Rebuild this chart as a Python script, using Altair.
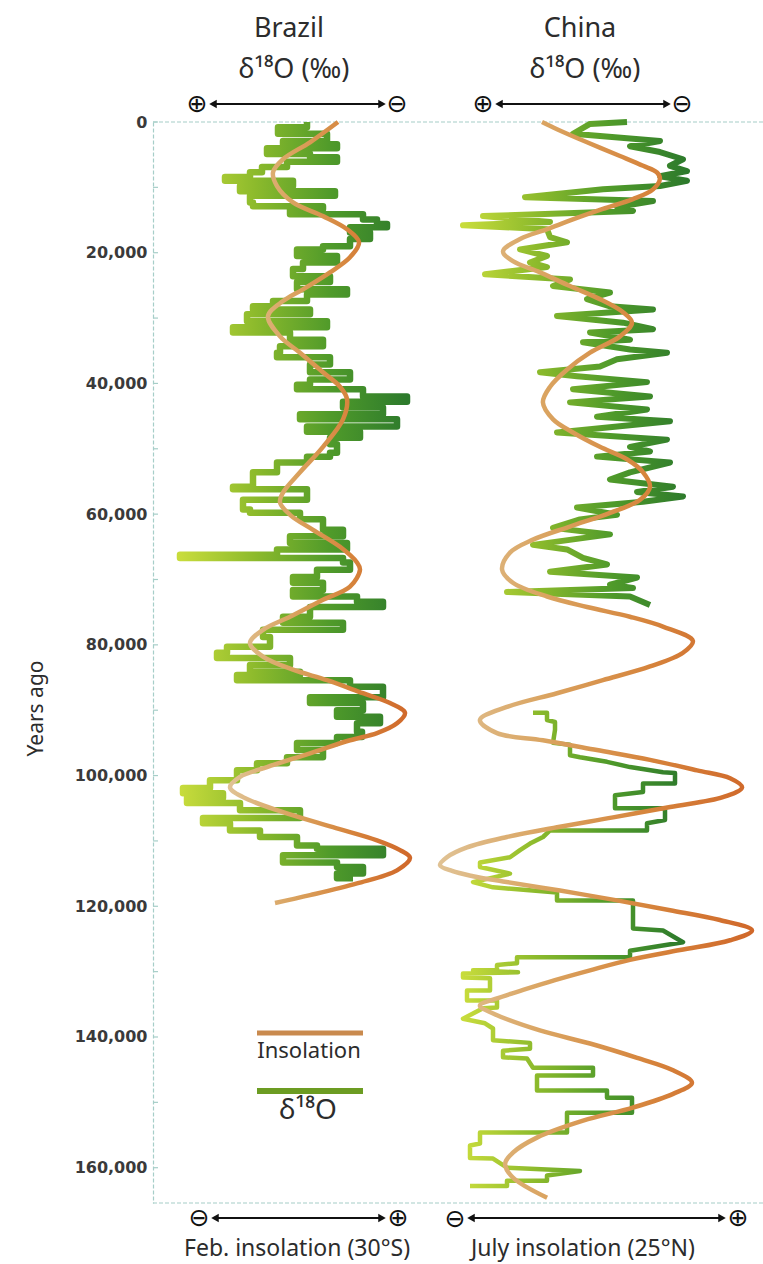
import altair as alt
import pandas as pd

# ---------------------------------------------------------------------------
# Data: (thousand years ago, value)
# ---------------------------------------------------------------------------
# Brazil speleothem δ18O (‰)
brazil_d18o = [
    (0.0, -4.20), (0.8, -3.62), (1.8, -4.60), (2.9, -3.72), (3.4, -4.80), (4.0, -3.40),
    (4.9, -4.26), (5.4, -4.80), (6.1, -3.80), (6.9, -3.30), (7.7, -3.06), (8.4, -2.56),
    (9.0, -3.92), (9.8, -2.86), (10.6, -4.76), (11.3, -3.06), (12.3, -3.12), (12.9, -4.52),
    (13.3, -3.86), (14.1, -5.32), (14.9, -5.60), (15.6, -5.80), (16.1, -5.06), (16.9, -5.46),
    (17.9, -5.06), (19.0, -4.52), (19.5, -4.00), (20.5, -4.80), (21.5, -4.12), (22.5, -3.92),
    (23.6, -4.66), (24.5, -4.00), (25.6, -5.00), (26.4, -4.20), (27.4, -3.52), (28.2, -3.12),
    (28.7, -4.26), (29.4, -3.00), (30.5, -4.60), (31.4, -2.72), (32.2, -3.86), (33.3, -4.52),
    (34.3, -3.66), (35.3, -3.60), (36.0, -4.66), (37.1, -4.26), (38.3, -5.06), (39.4, -4.26),
    (40.2, -4.00), (40.9, -5.32), (42.0, -6.20), (42.8, -4.92), (43.7, -5.72), (44.7, -4.06),
    (45.5, -6.00), (46.6, -4.20), (47.4, -5.26), (48.3, -4.66), (49.3, -4.80), (50.6, -4.66),
    (51.2, -4.20), (52.1, -3.60), (53.6, -3.12), (55.8, -2.72), (56.2, -4.20), (57.8, -2.92),
    (59.3, -3.06), (59.8, -4.06), (60.8, -4.52), (62.4, -4.92), (63.4, -3.86), (64.4, -5.00),
    (65.4, -3.60), (66.2, -1.66), (66.7, -4.92), (67.4, -5.06), (68.5, -4.40), (69.6, -3.92),
    (70.5, -4.52), (71.6, -3.92), (72.6, -5.20), (73.4, -5.72), (74.2, -4.26), (75.7, -3.72),
    (76.6, -4.92), (77.7, -3.32), (78.8, -3.46), (80.3, -2.60), (81.2, -2.40), (82.0, -3.86),
    (83.1, -3.06), (84.1, -4.06), (84.6, -2.80), (85.4, -5.06), (86.4, -5.72), (88.0, -4.26),
    (88.9, -5.32), (90.0, -4.80), (91.0, -5.66), (92.0, -5.20), (93.3, -5.30), (94.1, -4.80),
    (95.0, -4.00), (96.1, -4.52), (97.2, -3.80), (98.1, -3.20), (99.2, -2.80), (100.7, -2.26),
    (101.9, -1.72), (102.7, -2.52), (103.4, -1.80), (104.2, -2.86), (105.3, -4.06), (106.5, -2.12),
    (107.3, -2.66), (108.4, -3.26), (109.4, -4.00), (110.7, -4.40), (111.2, -5.72), (112.2, -3.72),
    (113.3, -4.80), (114.0, -5.32), (115.0, -4.80), (115.7, -5.12),
]

# China speleothem δ18O (‰), younger section
china_d18o_young = [
    (0.0, -7.86), (0.3, -7.12), (1.8, -6.78), (2.9, -8.52), (3.7, -7.92), (4.6, -8.52),
    (5.7, -8.98), (6.7, -8.72), (7.5, -9.06), (8.3, -8.52), (9.0, -9.06), (9.8, -8.52),
    (10.3, -7.38), (11.5, -5.82), (12.1, -8.38), (13.0, -7.66), (13.6, -7.98), (14.4, -4.98),
    (15.3, -6.32), (15.8, -4.58), (16.4, -6.26), (17.6, -6.32), (18.4, -6.66), (19.5, -5.72),
    (20.5, -6.26), (21.5, -5.92), (22.2, -6.26), (23.3, -5.02), (24.1, -6.72), (25.1, -6.38),
    (26.1, -7.52), (27.1, -7.06), (28.2, -7.52), (28.7, -8.38), (29.7, -6.46), (30.7, -7.78),
    (31.7, -8.38), (32.2, -7.12), (33.3, -7.92), (33.7, -6.98), (34.8, -7.92), (35.3, -8.66),
    (36.3, -7.66), (37.4, -7.32), (38.3, -6.12), (38.9, -6.86), (39.8, -8.26), (40.9, -6.78),
    (42.0, -8.32), (42.9, -6.72), (44.0, -8.26), (45.1, -7.26), (45.8, -8.72), (47.5, -6.46),
    (48.6, -8.66), (49.7, -7.92), (50.4, -8.32), (51.2, -7.26), (52.1, -8.72), (53.6, -7.92),
    (54.7, -7.52), (55.8, -8.78), (56.6, -8.06), (57.3, -8.98), (58.1, -8.18), (59.0, -6.86),
    (60.1, -7.66), (60.8, -6.92), (62.1, -6.38), (63.1, -7.52), (64.7, -5.98), (65.4, -6.66),
    (66.7, -6.98), (67.7, -7.46), (68.8, -6.32), (69.7, -8.06), (70.8, -7.52), (71.3, -7.98),
    (71.9, -5.46), (72.6, -7.92), (73.9, -8.32),
]

# China speleothem δ18O (‰), older section (after the gap)
china_d18o_old = [
    (90.4, -5.98), (90.4, -6.26), (91.5, -6.26), (91.8, -6.42), (93.0, -6.42), (95.0, -6.38),
    (95.3, -6.72), (96.9, -6.72), (97.2, -6.92), (97.9, -7.46), (98.7, -7.92), (99.5, -8.58),
    (99.6, -8.82), (101.2, -8.82), (101.2, -8.18), (102.5, -8.18), (103.0, -7.62), (105.0, -7.62),
    (105.0, -8.62), (106.8, -8.62), (107.3, -8.26), (108.4, -8.26), (108.4, -6.32), (109.4, -6.18),
    (110.4, -5.92), (111.4, -5.72), (112.5, -5.52), (113.3, -4.92), (114.0, -4.92), (115.0, -5.52),
    (116.3, -4.78), (117.1, -5.18), (117.9, -6.46), (119.1, -6.46), (119.1, -7.98), (123.4, -7.98),
    (123.7, -8.58), (125.5, -8.98), (126.8, -7.92), (127.8, -7.92), (127.8, -5.66), (128.7, -5.66),
    (129.0, -5.26), (129.8, -5.26), (129.8, -4.78), (130.1, -5.68), (130.3, -4.58), (130.9, -4.58),
    (131.0, -5.12), (132.9, -5.12), (132.9, -4.66), (134.4, -4.66), (134.4, -5.26), (135.5, -5.26),
    (135.6, -4.98), (137.2, -4.58), (137.9, -5.02), (138.7, -5.18), (140.5, -5.18), (140.9, -5.92),
    (141.8, -5.92), (142.1, -5.38), (143.1, -5.38), (143.3, -5.86), (144.7, -5.98), (144.7, -7.18),
    (145.9, -7.18), (145.9, -6.06), (148.2, -6.06), (148.2, -7.46), (149.3, -7.46), (149.3, -7.96),
    (151.6, -7.96), (151.6, -6.66), (154.6, -6.66), (154.6, -4.92), (156.3, -4.92), (156.6, -4.72),
    (158.5, -4.72), (158.6, -5.18), (160.0, -5.46), (160.5, -6.92), (161.2, -6.26), (162.0, -6.26),
    (162.0, -5.46), (162.8, -5.46), (162.8, -4.72),
]

# February insolation at 30°S (W/m²)
brazil_insolation = [
    (0.0, 470.5), (3.1, 456.5), (5.7, 443.0), (7.7, 438.0), (9.8, 440.0), (12.3, 448.0),
    (14.4, 463.0), (16.4, 475.0), (18.4, 481.0), (20.7, 476.5), (23.0, 466.5), (25.6, 453.0),
    (27.4, 443.0), (29.7, 435.5), (32.8, 441.5), (35.3, 451.5), (38.3, 463.0), (40.5, 471.5),
    (42.4, 475.0), (45.5, 473.0), (49.7, 463.0), (53.6, 451.5), (56.7, 443.0), (58.2, 441.5),
    (60.1, 446.5), (62.4, 458.0), (65.0, 471.5), (67.4, 480.0), (68.5, 481.5), (71.1, 476.5),
    (73.1, 463.0), (75.7, 446.5), (77.7, 433.0), (79.7, 426.5), (81.8, 433.0), (83.8, 448.0),
    (85.4, 465.0), (87.4, 483.0), (88.9, 496.5), (90.4, 504.0), (92.0, 500.0), (93.5, 490.0),
    (94.6, 476.5), (96.6, 456.5), (98.7, 435.0), (100.2, 421.5), (101.8, 416.5), (103.3, 423.0),
    (105.6, 443.0), (107.9, 468.0), (109.9, 490.0), (111.4, 501.5), (112.6, 506.5), (114.5, 500.0),
    (116.5, 480.0), (118.3, 456.5), (119.5, 439.0),
]

# July insolation at 25°N (W/m²)
china_insolation = [
    (0.0, 459.0), (1.1, 464.0), (3.1, 474.0), (5.2, 485.0), (6.7, 492.7), (7.7, 497.3),
    (8.7, 498.3), (10.3, 496.0), (11.8, 489.3), (13.3, 479.3), (14.9, 469.3), (16.4, 460.7),
    (17.9, 451.7), (19.8, 446.0), (21.3, 449.3), (23.0, 458.3), (25.1, 468.3), (27.1, 478.3),
    (29.1, 486.0), (30.7, 489.0), (32.8, 485.0), (35.3, 475.0), (37.9, 467.3), (40.5, 461.7),
    (42.9, 459.3), (45.5, 462.7), (47.5, 469.3), (49.7, 478.3), (51.6, 487.3), (53.6, 492.7),
    (55.8, 495.0), (57.8, 491.7), (59.8, 481.7), (61.9, 468.3), (63.9, 456.0), (65.9, 448.3),
    (68.5, 445.7), (70.5, 449.3), (72.6, 460.7), (74.2, 474.0), (75.7, 488.3), (77.2, 499.3),
    (79.4, 509.3), (81.2, 506.0), (83.3, 495.0), (85.4, 479.3), (87.4, 464.0), (89.5, 447.3),
    (91.5, 438.3), (93.5, 444.0), (94.6, 459.3), (96.1, 477.3), (97.6, 495.0), (99.2, 510.7),
    (100.4, 521.7), (101.8, 525.7), (103.3, 519.3), (104.8, 501.7), (106.4, 482.7), (107.9, 464.0),
    (109.4, 447.3), (111.0, 434.0), (112.5, 427.3), (113.7, 425.0), (114.6, 429.0), (115.4, 436.0),
    (116.2, 446.0), (117.6, 465.0), (119.1, 484.0), (120.6, 501.7), (122.1, 518.3), (123.7, 529.0),
    (125.2, 521.7), (126.7, 505.0), (128.2, 488.3), (129.8, 475.0), (131.3, 463.3), (132.8, 452.7),
    (134.1, 444.0), (135.2, 438.3), (136.4, 442.7), (139.0, 458.3), (141.0, 475.0), (143.2, 490.7),
    (145.1, 502.7), (147.0, 509.0), (148.7, 502.7), (150.8, 489.3), (152.8, 472.7), (155.4, 457.3),
    (157.7, 449.3), (159.4, 446.7), (161.5, 449.3), (164.6, 460.7),
]

axis_label_ka = [0, 20, 40, 60, 80, 100, 120, 140, 160]
axis_tick_ka = [0, 10, 20, 30, 40, 50, 60, 70, 80, 90, 100, 110, 120, 130, 140, 150, 160]

# ---------------------------------------------------------------------------
# Layout and style
# ---------------------------------------------------------------------------
W, H = 610, 1081          # plot area
LEFT, TOP = 153, 122      # plot origin on the page
Y_MAX = 165400

FONT = "Noto Sans"
SYMBOL_FONT = "DejaVu Sans"
INK = "#2c2c2c"
FRAME = "#a6cec8"


def px(x):
    return x - LEFT


def py(y):
    return y - TOP


def to_frame(pairs):
    df = pd.DataFrame(pairs, columns=["ka", "value"])
    df["years"] = (df["ka"] * 1000).round().astype(int)
    df["idx"] = range(len(df))
    return df


def grad(colors):
    n = len(colors) - 1
    return alt.Gradient(
        gradient="linear",
        stops=[alt.GradientStop(color=c, offset=i / n) for i, c in enumerate(colors)],
        x1=0, x2=1, y1=0, y2=0,
    )


GREEN = grad(["#c8dc3c", "#8cba2c", "#4f9a2a", "#2d7a2c"])
ORANGE = grad(["#e0c294", "#daa461", "#d6843c", "#d0682a"])

y_enc = alt.Y(
    "years:Q",
    scale=alt.Scale(domain=[0, Y_MAX], reverse=True, nice=False, zero=False),
    axis=alt.Axis(
        values=[k * 1000 for k in axis_label_ka], format=",d", title="Years ago",
        ticks=False, tickSize=0, labelPadding=6, grid=False,
        labelFont=SYMBOL_FONT, labelFontSize=16, labelFontWeight="bold", labelColor="#3a3a3a",
        domainColor=FRAME, domainWidth=1.2, domainDash=[4, 2],
        titleFont=FONT, titleFontSize=21, titleFontWeight="normal", titleColor=INK,
        titleAngle=270, titleX=-111, titleY=586, titleAlign="center", titleBaseline="alphabetic",
    ),
)


def x_scale(domain, left_px, right_px):
    return alt.Scale(domain=domain, range=[px(left_px), px(right_px)], nice=False, zero=False)


def curve(df, scale, stroke, width, interpolate="linear"):
    return alt.Chart(df).mark_line(
        stroke=stroke, strokeWidth=width, strokeJoin="round", interpolate=interpolate
    ).encode(
        x=alt.X("value:Q", scale=scale, axis=None),
        y=y_enc,
        order=alt.Order("idx:Q"),
    )


one = alt.Data(values=[{"k": 0}])


def text(txt, x, y, size, font=FONT, color=INK):
    return alt.Chart(one).mark_text(
        text=txt, font=font, fontSize=size, color=color, align="center", baseline="middle"
    ).encode(x=alt.value(px(x)), y=alt.value(py(y)))


def hline(x1, x2, y, color, width, dash=None):
    kw = {"strokeDash": dash} if dash else {}
    return alt.Chart(one).mark_rule(color=color, strokeWidth=width, **kw).encode(
        x=alt.value(px(x1)), x2=alt.value(px(x2)), y=alt.value(py(y))
    )


def double_arrow(x1, x2, y):
    parts = [hline(x1 + 4, x2 - 4, y, "#111111", 2)]
    for x, shape in ((x1 + 4, "triangle-left"), (x2 - 4, "triangle-right")):
        parts.append(
            alt.Chart(one).mark_point(shape=shape, filled=True, size=75, color="#111111", opacity=1)
            .encode(x=alt.value(px(x)), y=alt.value(py(y)))
        )
    return parts


ticks = alt.Chart(pd.DataFrame({"years": [k * 1000 for k in axis_tick_ka]})).mark_rule(
    color=FRAME, strokeWidth=1.2
).encode(x=alt.value(0), x2=alt.value(5), y=y_enc)

SIGN = dict(font=SYMBOL_FONT, color="#111111")
SIGN_SIZE = 25

layers = [
    hline(LEFT, 763, TOP, FRAME, 1.2, [4, 2]),
    hline(LEFT, 763, TOP + H, FRAME, 1.2, [4, 2]),
    ticks,
    curve(to_frame(brazil_d18o), x_scale([-6, -2], 397, 197), GREEN, 6.5, "step-before"),
    curve(to_frame(china_d18o_young), x_scale([-9, -5], 684, 484), GREEN, 6),
    curve(to_frame(china_d18o_old), x_scale([-9, -5], 684, 484), GREEN, 4.5),
    curve(to_frame(brazil_insolation), x_scale([400, 500], 197, 397), ORANGE, 4.5, "catmull-rom"),
    curve(to_frame(china_insolation), x_scale([430, 530], 455, 755), ORANGE, 4.5, "catmull-rom"),
    # panel headings
    text("Brazil", 289, 29, 27),
    text("China", 580, 29, 27),
    text("δ¹⁸O (‰)", 294, 70, 27),
    text("δ¹⁸O (‰)", 585, 70, 27),
    # δ18O direction arrows
    text("⊕", 197, 104, SIGN_SIZE, **SIGN),
    text("⊖", 397, 104, SIGN_SIZE, **SIGN),
    text("⊕", 483, 104, SIGN_SIZE, **SIGN),
    text("⊖", 682, 104, SIGN_SIZE, **SIGN),
    *double_arrow(209, 386, 104),
    *double_arrow(495, 671, 104),
    # insolation direction arrows and labels
    text("⊖", 199, 1218, SIGN_SIZE, **SIGN),
    text("⊕", 398, 1218, SIGN_SIZE, **SIGN),
    text("⊖", 455, 1219, SIGN_SIZE, **SIGN),
    text("⊕", 738, 1218, SIGN_SIZE, **SIGN),
    *double_arrow(211, 386, 1218),
    *double_arrow(467, 726, 1218),
    text("Feb. insolation (30°S)", 297, 1249, 23),
    text("July insolation (25°N)", 583, 1249, 23),
    # key
    hline(257, 363, 1033, "#c98a4e", 5),
    text("Insolation", 309, 1051, 22),
    hline(257, 363, 1091, "#6c9c22", 6),
    text("δ¹⁸O", 308, 1111, 28),
]

chart = (
    alt.layer(*layers)
    .resolve_scale(x="independent")
    .properties(
        width=W,
        height=H,
        autosize=alt.AutoSizeParams(type="none"),
        padding={"left": LEFT, "top": TOP, "right": 0, "bottom": 1264 - TOP - H},
        background="white",
    )
    .configure_view(stroke=None)
)

chart.save("out.html", embed_options={"renderer": "svg", "actions": False})
